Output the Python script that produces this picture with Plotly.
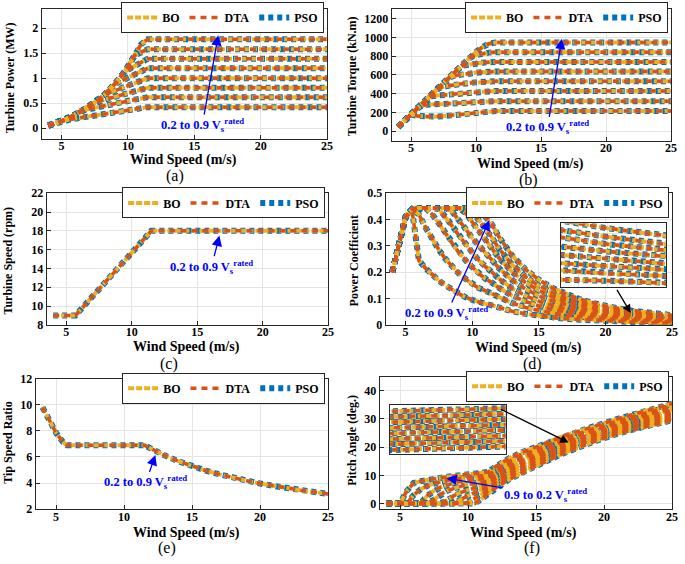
import plotly.graph_objects as go

W, H = 685, 564
SERIF = "Liberation Serif"

# curves: Vs / Vs_rated = 0.2 ... 0.9 (same data for the three optimisers)
vs_ratio = [0.2, 0.3, 0.4, 0.5, 0.6, 0.7, 0.8, 0.9]

# (a) turbine power (MW)
ws_power = [4, 5, 5.75, 6.75, 7.5, 8.25, 9, 9.75, 10.5, 11, 11.5, 25]
power_mw = [
    [0.05, 0.14, 0.18, 0.22, 0.25, 0.28, 0.32, 0.35, 0.38, 0.40, 0.42, 0.42],
    [0.05, 0.14, 0.23, 0.36, 0.41, 0.45, 0.49, 0.53, 0.57, 0.60, 0.62, 0.62],
    [0.05, 0.14, 0.23, 0.38, 0.51, 0.57, 0.62, 0.68, 0.74, 0.77, 0.81, 0.81],
    [0.05, 0.14, 0.23, 0.38, 0.51, 0.67, 0.75, 0.82, 0.90, 0.95, 1.00, 1.00],
    [0.05, 0.14, 0.23, 0.38, 0.51, 0.67, 0.88, 0.98, 1.07, 1.14, 1.20, 1.20],
    [0.05, 0.14, 0.23, 0.38, 0.51, 0.67, 0.88, 1.13, 1.24, 1.32, 1.39, 1.39],
    [0.05, 0.14, 0.23, 0.38, 0.51, 0.67, 0.88, 1.13, 1.45, 1.52, 1.58, 1.58],
    [0.05, 0.14, 0.23, 0.38, 0.51, 0.67, 0.88, 1.13, 1.45, 1.68, 1.78, 1.78],
]

# (b) turbine torque (kN.m)
ws_torque = [4, 5, 5.5, 6, 6.5, 7, 7.5, 8, 8.5, 9, 9.5, 10, 10.5, 11, 11.5, 25]
torque_knm = [
    [45, 178, 162, 156, 154, 156, 160, 166, 173, 180, 188, 195, 202, 209, 214, 214],
    [45, 180, 248, 280, 284, 287, 290, 294, 298, 302, 306, 310, 314, 317, 320, 320],
    [45, 180, 248, 315, 370, 380, 387, 393, 399, 404, 409, 414, 419, 424, 428, 428],
    [45, 180, 248, 315, 382, 450, 476, 489, 499, 507, 514, 520, 525, 529, 532, 532],
    [45, 180, 248, 315, 382, 450, 515, 575, 596, 608, 617, 624, 629, 633, 635, 635],
    [45, 180, 248, 315, 382, 450, 515, 580, 648, 697, 713, 723, 730, 735, 738, 738],
    [45, 180, 248, 315, 382, 450, 515, 580, 648, 715, 780, 811, 827, 837, 842, 842],
    [45, 180, 248, 315, 382, 450, 515, 580, 648, 715, 780, 845, 897, 932, 945, 945],
]

# (c) turbine speed (rpm) - identical for all curves
ws_speed = [4, 5.7, 11.5, 25]
speed_rpm = [9, 9, 18, 18]

# (d) power coefficient
ws_cp = [4, 4.5, 5, 5.5, 6, 6.5, 7, 7.5, 8, 8.5, 9, 9.5, 10, 10.5, 11, 11.5,
         12, 13, 14, 15, 16, 17, 18, 19, 20, 21, 22, 23, 24, 25]
cp = [
    [0.20, 0.31, 0.41, 0.43, 0.245, 0.215, 0.19, 0.168, 0.15, 0.133, 0.118, 0.105, 0.095, 0.087, 0.08, 0.075,
     0.066, 0.052, 0.042, 0.034, 0.028, 0.023, 0.020, 0.017, 0.014, 0.012, 0.011, 0.009, 0.008, 0.007],
    [0.20, 0.31, 0.41, 0.44, 0.42, 0.37, 0.325, 0.285, 0.25, 0.22, 0.195, 0.175, 0.155, 0.14, 0.13, 0.12,
     0.106, 0.083, 0.066, 0.054, 0.045, 0.037, 0.031, 0.027, 0.023, 0.020, 0.017, 0.015, 0.013, 0.012],
    [0.20, 0.31, 0.41, 0.44, 0.444, 0.444, 0.42, 0.385, 0.345, 0.31, 0.275, 0.245, 0.22, 0.195, 0.175, 0.16,
     0.141, 0.111, 0.089, 0.072, 0.059, 0.050, 0.042, 0.036, 0.030, 0.026, 0.023, 0.020, 0.018, 0.016],
    [0.20, 0.31, 0.41, 0.44, 0.444, 0.444, 0.444, 0.44, 0.41, 0.375, 0.34, 0.305, 0.275, 0.245, 0.22, 0.2,
     0.176, 0.138, 0.111, 0.090, 0.074, 0.062, 0.052, 0.044, 0.038, 0.033, 0.029, 0.025, 0.022, 0.019],
    [0.20, 0.31, 0.41, 0.44, 0.444, 0.444, 0.444, 0.444, 0.444, 0.43, 0.40, 0.365, 0.33, 0.30, 0.27, 0.245,
     0.216, 0.170, 0.136, 0.110, 0.091, 0.076, 0.064, 0.054, 0.047, 0.040, 0.035, 0.031, 0.027, 0.024],
    [0.20, 0.31, 0.41, 0.44, 0.444, 0.444, 0.444, 0.444, 0.444, 0.444, 0.444, 0.425, 0.39, 0.355, 0.32, 0.29,
     0.255, 0.201, 0.161, 0.131, 0.108, 0.090, 0.076, 0.064, 0.055, 0.048, 0.041, 0.036, 0.032, 0.028],
    [0.20, 0.31, 0.41, 0.44, 0.444, 0.444, 0.444, 0.444, 0.444, 0.444, 0.444, 0.444, 0.43, 0.40, 0.365, 0.33,
     0.29, 0.229, 0.183, 0.149, 0.123, 0.102, 0.086, 0.073, 0.063, 0.054, 0.047, 0.041, 0.036, 0.032],
    [0.20, 0.31, 0.41, 0.44, 0.444, 0.444, 0.444, 0.444, 0.444, 0.444, 0.444, 0.444, 0.444, 0.444, 0.41, 0.38,
     0.335, 0.263, 0.211, 0.172, 0.141, 0.118, 0.099, 0.084, 0.072, 0.062, 0.054, 0.048, 0.042, 0.037],
]

# (e) tip speed ratio - identical for all curves
ws_tsr = [4, 4.5, 5, 5.5, 5.8, 11.5, 12, 13, 14, 15, 16, 17, 18, 19, 20, 21, 22, 23, 24, 25]
tsr = [9.8, 8.75, 7.85, 7.15, 6.9, 6.9, 6.61, 6.1, 5.67, 5.29, 4.96, 4.67, 4.41, 4.18, 3.97,
       3.78, 3.61, 3.45, 3.31, 3.17]

# (f) pitch angle (deg.)
ws_pitch = [4, 4.5, 5, 5.5, 6, 6.5, 7, 7.5, 8, 8.5, 9, 9.5, 10, 10.5, 11, 11.5,
            12, 13, 14, 15, 17, 19, 21, 23, 25]
pitch_deg = [
    [0, 0, 0, 4.5, 7.3, 7.9, 8.4, 8.8, 9.2, 9.5, 9.8, 10.1, 10.4, 10.7, 10.95, 11.2,
     13.0, 16.0, 18.3, 20.0, 23.9, 27.0, 30.0, 32.8, 35.4],
    [0, 0, 0, 0, 3.0, 5.0, 6.3, 7.2, 7.8, 8.3, 8.7, 9.1, 9.4, 9.7, 9.9, 10.1,
     11.9, 14.9, 17.3, 19.0, 23.0, 26.2, 29.3, 32.0, 34.6],
    [0, 0, 0, 0, 0, 0, 2.8, 4.6, 5.8, 6.7, 7.4, 7.9, 8.3, 8.6, 8.8, 9.0,
     10.9, 13.9, 16.2, 18.1, 22.2, 25.4, 28.5, 31.2, 33.7],
    [0, 0, 0, 0, 0, 0, 0, 1.4, 3.3, 4.6, 5.5, 6.2, 6.8, 7.2, 7.6, 7.9,
     9.8, 12.8, 15.2, 17.1, 21.3, 24.6, 27.8, 30.4, 32.9],
    [0, 0, 0, 0, 0, 0, 0, 0, 0, 1.3, 2.9, 4.0, 4.9, 5.6, 6.2, 6.8,
     8.7, 11.7, 14.1, 16.2, 20.4, 23.9, 27.0, 29.7, 32.0],
    [0, 0, 0, 0, 0, 0, 0, 0, 0, 0, 0, 1.6, 2.9, 3.9, 4.9, 5.7,
     7.6, 10.6, 13.1, 15.2, 19.5, 23.1, 26.3, 28.9, 31.2],
    [0, 0, 0, 0, 0, 0, 0, 0, 0, 0, 0, 0, 0.4, 1.9, 3.4, 4.6,
     6.6, 9.6, 12.0, 14.3, 18.7, 22.3, 25.5, 28.1, 30.3],
    [0, 0, 0, 0, 0, 0, 0, 0, 0, 0, 0, 0, 0, 0, 1.7, 3.5,
     5.5, 8.5, 11.0, 13.3, 17.8, 21.5, 24.8, 27.3, 29.5],
]

# drawing order bottom -> top
methods = [
    dict(name="PSO", color="#0072BD", width=6, dash="5px,4px", rank=3),
    dict(name="BO", color="#EDB120", width=4, dash="6px,2px", rank=1),
    dict(name="DTA", color="#D95319", width=3.5, dash="6px,5px", rank=2),
]

panels = [
    ("", ws_power, power_mw, "legend"),
    ("2", ws_torque, torque_knm, "legend2"),
    ("3", ws_speed, [speed_rpm], "legend3"),
    ("4", ws_cp, cp, "legend4"),
    ("5", ws_tsr, [tsr], "legend5"),
    ("6", ws_pitch, pitch_deg, "legend6"),
    ("7", ws_cp, cp, None),          # zoom inset of (d)
    ("8", ws_pitch, pitch_deg, None),  # zoom inset of (f)
]

fig = go.Figure()
for sfx, xs, curves, leg in panels:
    for m in methods:
        for i, ys in enumerate(curves):
            fig.add_trace(go.Scatter(
                x=xs, y=ys, mode="lines", name=m["name"],
                line=dict(color=m["color"], width=m["width"], dash=m["dash"]),
                xaxis="x" + sfx, yaxis="y" + sfx,
                legend=leg or "legend", showlegend=(leg is not None and i == 0),
                legendrank=m["rank"], hoverinfo="skip"))

edge = "#262626"
tickfont = dict(family=SERIF, size=12, color="black", weight="bold")


def px(x):
    return x / W


def py(y):
    return 1 - y / H


def axis(dom, anchor, **kw):
    d = dict(domain=dom, anchor=anchor, showline=True, linecolor=edge,
             linewidth=1, mirror=True, ticks="inside", ticklen=4, tickcolor=edge,
             showgrid=True, gridcolor="#e4e4e4", gridwidth=1, zeroline=False,
             tickfont=tickfont, fixedrange=True)
    d.update(kw)
    return d


boxes = {  # left, right, top, bottom in pixels
    "": (42, 330, 1.7, 135),
    "2": (395, 677, 1.7, 137),
    "3": (47, 331, 191, 326),
    "4": (389, 678, 191, 326),
    "5": (36, 331, 381, 515),
    "6": (383, 678, 379, 515),
}
yspec = {
    "": dict(range=[-0.21, 2.39], tickvals=[0, 0.5, 1, 1.5, 2]),
    "2": dict(range=[-100, 1305], tickvals=[0, 200, 400, 600, 800, 1000, 1200]),
    "3": dict(range=[8, 22], tickvals=[8, 10, 12, 14, 16, 18, 20, 22]),
    "4": dict(range=[0, 0.5], tickvals=[0, 0.1, 0.2, 0.3, 0.4, 0.5]),
    "5": dict(range=[2, 12], tickvals=[2, 4, 6, 8, 10, 12]),
    "6": dict(range=[-2, 45], tickvals=[0, 10, 20, 30, 40]),
}

layout = dict(width=W, height=H, margin=dict(l=0, r=0, t=0, b=0), autosize=False,
              plot_bgcolor="white", paper_bgcolor="white")

for sfx, (l, r, t, b) in boxes.items():
    layout["xaxis" + sfx] = axis([px(l), px(r)], "y" + sfx, range=[3.5, 25],
                                 tickvals=[5, 10, 15, 20, 25], ticklabelstandoff=-4)
    layout["yaxis" + sfx] = axis([py(b), py(t)], "x" + sfx, **yspec[sfx])

# insets
layout["xaxis7"] = axis([px(566), px(672)], "y7", range=[21.2, 23], showticklabels=False, ticks="", dtick=0.5)
layout["yaxis7"] = axis([py(287), py(222)], "x7", range=[0.006, 0.058], showticklabels=False, ticks="", dtick=0.01)
layout["xaxis8"] = axis([px(393), px(510)], "y8", range=[17.4, 17.7], showticklabels=False, ticks="", dtick=0.1)
layout["yaxis8"] = axis([py(458), py(408)], "x8", range=[18, 25.5], showticklabels=False, ticks="", dtick=2)


def legend(xr, yt):
    return dict(x=px(xr), y=py(yt), xanchor="right", yanchor="top", orientation="h",
                bgcolor="white", bordercolor=edge, borderwidth=1,
                font=dict(family=SERIF, size=12, color="black", weight="bold"),
                itemwidth=30, tracegroupgap=0)


# legend boxes sit a few px below the requested top, so ask a little higher
layout["legend"] = legend(327, -5)
layout["legend2"] = legend(674, -5)
layout["legend3"] = legend(328, 185)
layout["legend4"] = legend(675, 185)
layout["legend5"] = legend(328, 375)
layout["legend6"] = legend(675, 373)


def note(text, x, y, size, angle=0, weight="bold"):
    return dict(text=text, x=px(x), y=py(y), xref="paper", yref="paper", showarrow=False,
                textangle=angle, xanchor="center", yanchor="middle",
                font=dict(family=SERIF, size=size, color="black", weight=weight))


ann = []
for x, y in [(185, 157), (535, 161), (188, 349), (533, 350), (188, 539), (528, 539)]:
    ann.append(note("Wind Speed (m/s)", x, y, 14))
for text, x, y in [("Turbine Power (MW)", 10, 72), ("Turbine Torque (kN.m)", 355, 71),
                   ("Turbine Speed (rpm)", 8, 260), ("Power Coefficient", 357, 260),
                   ("Tip Speed Ratio", 8, 447), ("Pitch Angle (deg.)", 355, 444)]:
    ann.append(note(text, x, y, 12, angle=-90))
for text, x, y in [("(a)", 177, 173), ("(b)", 533, 177), ("(c)", 170, 366),
                   ("(d)", 537, 366), ("(e)", 168, 555), ("(f)", 537, 555)]:
    ann.append(note(text, x, y, 16, weight="normal"))

up = "0.2 to 0.9 V<sub>s</sub><sup>rated</sup>"
down = "0.9 to 0.2 V<sub>s</sub><sup>rated</sup>"


def arrow(sfx, text, tx, ty, hx, hy, color="#0000FF", size=1.6):
    return dict(text=text, x=hx, y=hy, ax=tx, ay=ty, xref="x" + sfx, yref="y" + sfx,
                axref="x" + sfx, ayref="y" + sfx, showarrow=True, arrowhead=2,
                arrowsize=size, arrowwidth=1.3, arrowcolor=color,
                font=dict(family=SERIF, size=12.5, color=color, weight="bold"))


ann += [
    arrow("", up, 15.6, 0.06, 16.8, 1.86),
    arrow("2", up, 15.5, 40, 16.6, 985),
    arrow("3", up, 16.1, 14.2, 16.7, 17.5),
    arrow("4", up, 8.1, 0.045, 11.3, 0.398),
    arrow("5", up, 11.6, 4.05, 12.3, 6.15),
    arrow("6", down, 15.7, 3.0, 8.4, 9.0),
    arrow("4", "", 20.8, 0.139, 21.9, 0.045, color="black", size=1.3),
    arrow("6", "", 12.3, 33.7, 17.4, 21.6, color="black", size=1.3),
]
layout["annotations"] = ann

fig.update_layout(**layout)
fig.write_html("out.html", config={"displayModeBar": False},
               post_script="document.body.style.margin='0';")
